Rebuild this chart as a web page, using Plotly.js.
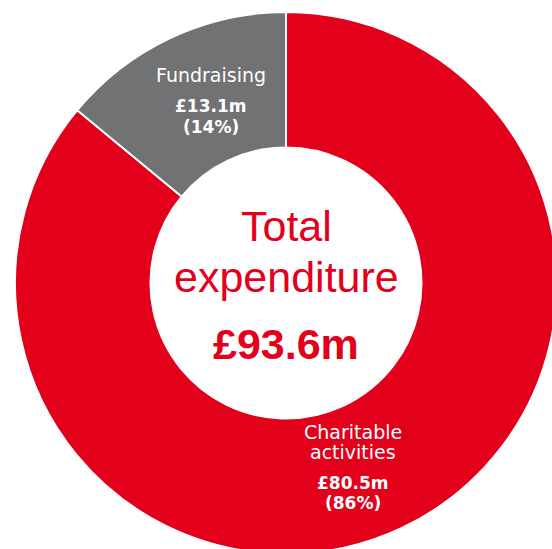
<!DOCTYPE html>
<html>
<head>
<meta charset="utf-8">
<script src="https://cdn.plot.ly/plotly-3.0.1.min.js"></script>
<style>
html,body{margin:0;padding:0;overflow:hidden;background:#fff;}
#chart{width:572px;height:564px;}
</style>
</head>
<body>
<div id="chart"></div>
<script>
// Data
const categories = ['Charitable activities', 'Fundraising'];
const values = [80.5, 13.1];          // £m
const percents = [86, 14];            // %
const totalLabel = ['Total', 'expenditure'];
const totalValue = 93.6;              // £m

// Styles / geometry
const W = 572, H = 564;
const CX = 286, CY = 283, R = 271;
const colors = ['#E2001A', '#717274'];
const px = x => x / W;
const py = y => 1 - y / H;
const money = v => '£' + v.toFixed(1) + 'm';

const trace = {
  type: 'pie',
  labels: categories,
  values: values,
  sort: false,
  direction: 'clockwise',
  rotation: 0,
  hole: 0.5,
  textinfo: 'none',
  hoverinfo: 'none',
  showlegend: false,
  marker: {colors: colors, line: {color: '#ffffff', width: 2}},
  domain: {x: [px(CX - R), px(CX + R)], y: [py(CY + R), py(CY - R)]}
};

const centerFont = 'Liberation Sans, Arial, sans-serif';
const labelFont = 'DejaVu Sans, sans-serif';
function ann(text, x, y, size, color, family, bold) {
  return {
    text: bold ? '<b>' + text + '</b>' : text,
    x: px(x), y: py(y), xref: 'paper', yref: 'paper',
    xanchor: 'center', yanchor: 'middle', showarrow: false,
    font: {family: family, size: size, color: color}
  };
}

const charWords = categories[0].split(' ');
const annotations = [
  ann(totalLabel[0], 286, 225.6, 43, '#E2001A', centerFont, false),
  ann(totalLabel[1], 286, 277.1, 43, '#E2001A', centerFont, false),
  ann(money(totalValue), 286, 344.1, 43, '#E2001A', centerFont, true),
  ann(categories[1], 211, 75.1, 19, '#ffffff', labelFont, false),
  ann(money(values[1]), 211, 106.0, 17, '#ffffff', labelFont, true),
  ann('(' + percents[1] + '%)', 211, 127.0, 17, '#ffffff', labelFont, true),
  ann(charWords[0], 353, 431.7, 19, '#ffffff', labelFont, false),
  ann(charWords[1], 353, 451.7, 19, '#ffffff', labelFont, false),
  ann(money(values[0]), 353, 482.6, 17, '#ffffff', labelFont, true),
  ann('(' + percents[0] + '%)', 353, 502.8, 17, '#ffffff', labelFont, true)
];

const layout = {
  width: W, height: H,
  margin: {l: 0, r: 0, t: 0, b: 0, pad: 0},
  paper_bgcolor: '#ffffff',
  plot_bgcolor: '#ffffff',
  showlegend: false,
  annotations: annotations
};

Plotly.newPlot('chart', [trace], layout, {staticPlot: true, displayModeBar: false});
</script>
</body>
</html>
